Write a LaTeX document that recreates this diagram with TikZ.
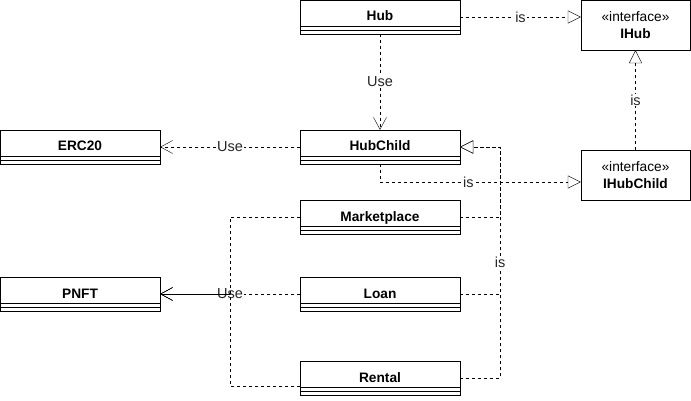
\documentclass[tikz,border=0pt]{standalone}
\usepackage{fontspec}
\setmainfont{Liberation Sans}
\usetikzlibrary{arrows.meta,calc}
\tikzset{
  x=1pt, y=-1pt,
  line width=1pt,
  classbox/.style={draw, fill=white, minimum width=160pt, minimum height=34pt, inner sep=0pt},
  ifacebox/.style={draw, fill=white, minimum width=109pt, minimum height=50pt, inner sep=0pt, align=center, font=\fontsize{13.7}{17}\selectfont},
  title/.style={font=\fontsize{13.7}{16}\selectfont\bfseries, anchor=base, inner sep=0pt},
  conn/.style={dash pattern=on 3pt off 3pt},
  isarr/.style={conn, -{Triangle[open,length=13pt,width=13pt,fill=white]}},
  usearr/.style={conn, -{Straight Barb[length=12pt,width=13pt]}},
  lbl/.style={fill=white, inner sep=1pt, font=\fontsize{14.5}{16}\selectfont, text=black!85}
}
\newcommand\umlclass[4]{%
  \node[classbox] (#1) at (#2,#3+17) {};
  \node[title] at (#2,#3+21) {#4};
  \draw (#1.north west) ++(0,26) -- ++(160,0);
  \draw (#1.north west) ++(0,30) -- ++(160,0);
}
\begin{document}
\begin{tikzpicture}
\useasboundingbox (0,0) rectangle (691,401);
\umlclass{hub}{380}{0}{Hub}
\umlclass{hubchild}{380}{130}{HubChild}
\umlclass{erc}{80}{130}{ERC20}
\umlclass{pnft}{80}{277}{PNFT}
\umlclass{mkt}{380}{200}{Marketplace}
\umlclass{loan}{380}{277}{Loan}
\umlclass{rental}{380}{361}{Rental}
\node[ifacebox] (ihub) at (635.5,25) {«interface»\\\textbf{IHub}};
\node[ifacebox] (ihubchild) at (635.5,175) {«interface»\\\textbf{IHubChild}};

\draw[isarr] (hub.east) -- node[lbl]{is} (hub.east -| ihub.west);
\draw[isarr] (ihubchild.north) -- node[lbl]{is} (ihub.south);
\draw[usearr] (hub.south) -- node[lbl]{Use} (hubchild.north);
\draw[usearr] (hubchild.west) -- node[lbl]{Use} (erc.east);
\draw[isarr] (hubchild.south) |- node[lbl,pos=0.72]{is} ([yshift=-7pt]ihubchild.west);

\draw[isarr] (mkt.east) -- ++(40,0) |- (hubchild.east);
\draw[isarr] (loan.east) -- ++(40,0) |- (hubchild.east);
\draw[isarr] (rental.east) -- ++(40,0) |- node[lbl,pos=0.25]{is} (hubchild.east);

\draw[usearr] (loan.west) -- node[lbl]{Use} (pnft.east);
\draw[usearr] (mkt.west) -- ++(-70,0) |- (pnft.east);
\draw[usearr] ([yshift=-8pt]rental.west) -- ++(-70,0) |- (pnft.east);
\end{tikzpicture}
\end{document}
